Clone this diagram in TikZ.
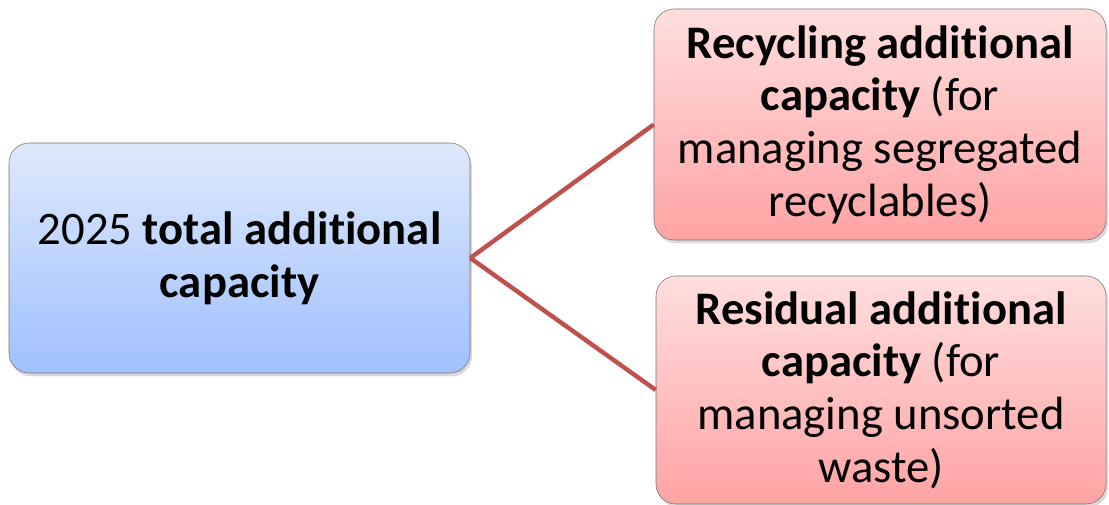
\documentclass[tikz,border=0pt]{standalone}
\usepackage{fontspec}
\setmainfont{Carlito}[Ligatures=NoCommon]
\usetikzlibrary{shadows}
\definecolor{bluetop}{RGB}{222,233,252}
\definecolor{bluebot}{RGB}{160,192,255}
\definecolor{redtop}{RGB}{255,222,222}
\definecolor{redbot}{RGB}{255,163,163}
\definecolor{linkred}{RGB}{192,80,77}
\begin{document}
\begin{tikzpicture}[x=0.75pt,y=0.75pt,
    box/.style={draw=gray!90!black,rounded corners=15pt,align=center,
      font=\fontsize{35}{39.5}\selectfont,
      drop shadow={shadow xshift=1.5pt,shadow yshift=-2.5pt,opacity=0.3}},
    bluebox/.style={box,top color=bluetop,bottom color=bluebot},
    redbox/.style={box,top color=redtop,bottom color=redbot},
    link/.style={line width=3.3pt,draw=linkred}]
  \useasboundingbox (0,0) rectangle (1109,505);
  \node[bluebox,minimum width=345.75pt,minimum height=172.5pt] (total) at (239.5,247)
    {2025 \textbf{total additional}\\\textbf{capacity}};
  \node[redbox,minimum width=339pt,minimum height=173.25pt] (recycling) at (880,380.5)
    {\textbf{Recycling additional}\\\textbf{capacity} (for\\managing segregated\\recyclables)};
  \node[redbox,minimum width=337.5pt,minimum height=171pt] (residual) at (881,115)
    {\textbf{Residual additional}\\\textbf{capacity} (for\\managing unsorted\\waste)};
  \draw[link] (total.east) -- (recycling.west);
  \draw[link] (total.east) -- (residual.west);
\end{tikzpicture}
\end{document}
